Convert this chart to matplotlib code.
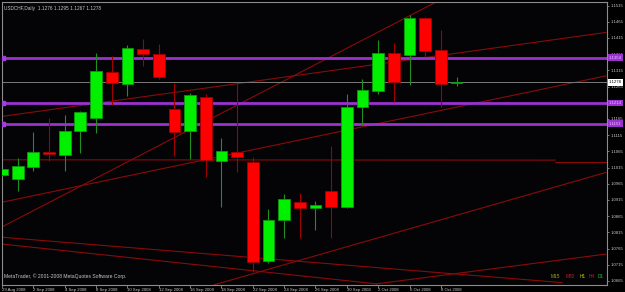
import numpy as np
import matplotlib.pyplot as plt

# daily USDCHF candles, 29 Aug 2008 - 9 Oct 2008
dates = ["29 Aug 2008", "1 Sep 2008", "2 Sep 2008", "3 Sep 2008", "4 Sep 2008",
         "5 Sep 2008", "8 Sep 2008", "9 Sep 2008", "10 Sep 2008", "11 Sep 2008",
         "12 Sep 2008", "15 Sep 2008", "16 Sep 2008", "17 Sep 2008", "18 Sep 2008",
         "19 Sep 2008", "22 Sep 2008", "23 Sep 2008", "24 Sep 2008", "25 Sep 2008",
         "26 Sep 2008", "29 Sep 2008", "30 Sep 2008", "1 Oct 2008", "2 Oct 2008",
         "3 Oct 2008", "6 Oct 2008", "7 Oct 2008", "8 Oct 2008", "9 Oct 2008"]
opens = [1.0991, 1.0981, 1.1018, 1.1063, 1.1054, 1.1127, 1.1169, 1.1310, 1.1273, 1.1381,
         1.1366, 1.1195, 1.1127, 1.1233, 1.1036, 1.1063, 1.1033, 1.0727, 1.0852, 1.0908,
         1.0891, 1.0943, 1.0892, 1.1201, 1.1252, 1.1368, 1.1363, 1.1477, 1.1377, 1.1276]
highs = [1.1012, 1.1045, 1.1126, 1.1168, 1.1177, 1.1189, 1.1369, 1.1360, 1.1394, 1.1412,
         1.1397, 1.1275, 1.1246, 1.1242, 1.1106, 1.1276, 1.1048, 1.0886, 1.0933, 1.0938,
         1.0912, 1.1083, 1.1243, 1.1289, 1.1409, 1.1398, 1.1485, 1.1481, 1.1440, 1.1295]
lows = [1.0989, 1.0943, 1.1005, 1.1035, 1.1004, 1.1060, 1.1122, 1.1209, 1.1236, 1.1330,
        1.1287, 1.1052, 1.1043, 1.0986, 1.0894, 1.1001, 1.0692, 1.0721, 1.0799, 1.0799,
        1.0822, 1.0799, 1.0891, 1.1147, 1.1243, 1.1218, 1.1270, 1.1356, 1.1203, 1.1267]
closes = [1.1010, 1.1021, 1.1062, 1.1056, 1.1129, 1.1185, 1.1312, 1.1275, 1.1384, 1.1367,
          1.1294, 1.1125, 1.1239, 1.1038, 1.1066, 1.1049, 1.0723, 1.0852, 1.0918, 1.0890,
          1.0900, 1.0893, 1.1203, 1.1254, 1.1368, 1.1279, 1.1477, 1.1375, 1.1272, 1.1278]

# horizontal levels (purple) and current bid
levels = [1.1354, 1.1214, 1.1151]
bid = 1.1278

# trend lines: (bar0, price0, bar1, price1)
trend_lines = [
    (0.0, 1.0832, 27.74, 1.1527),
    (0.0, 1.1173, 38.53, 1.1432),
    (0.0, 1.0908, 38.53, 1.1298),
    (0.0, 1.1039, 35.3, 1.1038),
    (35.3, 1.1032, 39.0, 1.1032),
    (0.0, 1.0800, 35.73, 1.0660),
    (0.0, 1.0779, 23.93, 1.0656),
    (23.86, 1.0656, 38.53, 1.0748),
    (13.53, 1.0653, 38.53, 1.1000),
]

price_ticks = [1.1515, 1.1465, 1.1415, 1.1365, 1.1315, 1.1265, 1.1215, 1.1165, 1.1115,
               1.1065, 1.1015, 1.0965, 1.0915, 1.0865, 1.0815, 1.0765, 1.0715, 1.0665]

plt.rcParams['font.family'] = ['Liberation Sans', 'DejaVu Sans']
fs = 3.1
txt_col = '#c8c8c8'

fig = plt.figure(figsize=(6.25, 2.92), dpi=100, facecolor='black')
ax = fig.add_axes([2 / 625, 7 / 292, 605 / 625, 283 / 292], facecolor='#040407')

x = np.arange(len(dates))
o = np.array(opens)
c = np.array(closes)
up = c >= o

# trend lines
for x0, y0, x1, y1 in trend_lines:
    ax.plot([x0, x1], [y0, y1], color='#8a0a0a', lw=0.8, zorder=1)

# bid line and levels
ax.axhline(bid, color='#7a7a7a', lw=0.7, zorder=1)
for lv in levels:
    ax.axhline(lv, color='#9b32d0', lw=2.0, zorder=2)
    ax.plot([0.05], [lv], marker='s', ms=2.5, color='#a040e0', zorder=3)

# wicks
ax.vlines(x[up], np.array(lows)[up], np.array(highs)[up], color='#1f8f1f', lw=0.8, zorder=3)
ax.vlines(x[~up], np.array(lows)[~up], np.array(highs)[~up], color='#a00000', lw=0.8, zorder=3)

# bodies
w = 0.75
ax.bar(x[up], (c - o)[up], bottom=o[up], width=w, color='#00f000',
       edgecolor='#0a9a0a', lw=0.6, zorder=4)
ax.bar(x[~up], (o - c)[~up], bottom=c[~up], width=w, color='#ff0000',
       edgecolor='#a00000', lw=0.6, zorder=4)

ax.set_xlim(0.013, 38.6)
ax.set_ylim(1.06526, 1.1526)

for s in ax.spines.values():
    s.set_color('#8c8c8c')
    s.set_linewidth(0.8)

# axes ticks
ax.yaxis.tick_right()
ax.set_yticks(price_ticks)
ax.set_yticklabels([f"{p:.4f}" for p in price_ticks])
ax.tick_params(axis='y', colors='#8c8c8c', labelcolor=txt_col, labelsize=fs,
               length=1.5, width=0.6, pad=1)
ax.set_xticks(x[::2])
ax.set_xticklabels(dates[::2], ha='left')
ax.tick_params(axis='x', colors='#8c8c8c', labelcolor=txt_col, labelsize=fs,
               length=2, width=0.6, pad=0.5)

# right-hand price boxes (cover the axis labels as in the terminal)
for lv in levels:
    ax.text(1.003, lv, f"{lv:.4f}", transform=ax.get_yaxis_transform(),
            fontsize=fs, color='#e8c0ff', va='center', ha='left', zorder=10,
            bbox=dict(boxstyle='square,pad=0.3', fc='#9b32d0', ec='#9b32d0', lw=0))
ax.text(1.003, bid, f"{bid:.4f}", transform=ax.get_yaxis_transform(),
        fontsize=fs, color='black', va='center', ha='left', zorder=10,
        bbox=dict(boxstyle='square,pad=0.3', fc='white', ec='white', lw=0))

# texts
ax.text(0.004, 0.985, "USDCHF,Daily  1.1276 1.1295 1.1267 1.1278", transform=ax.transAxes,
        fontsize=3.4, color=txt_col, va='top', ha='left')
ax.text(0.003, 0.02, "MetaTrader, \u00a9 2001-2008 MetaQuotes Software Corp.",
        transform=ax.transAxes, fontsize=3.6, color=txt_col, va='bottom', ha='left')

periods = ["M15", "M30", "H1", "H4", "D1"]
period_cols = ['#a0a020', '#d01818', '#c8c800', '#d01818', '#20c020']
period_x = [0.906, 0.932, 0.954, 0.970, 0.985]
for lab, col, px in zip(periods, period_cols, period_x):
    ax.text(px, 0.02, lab, transform=ax.transAxes, fontsize=3.4, color=col,
            va='bottom', ha='left')

fig.savefig('out.png', dpi=100, facecolor='black')
